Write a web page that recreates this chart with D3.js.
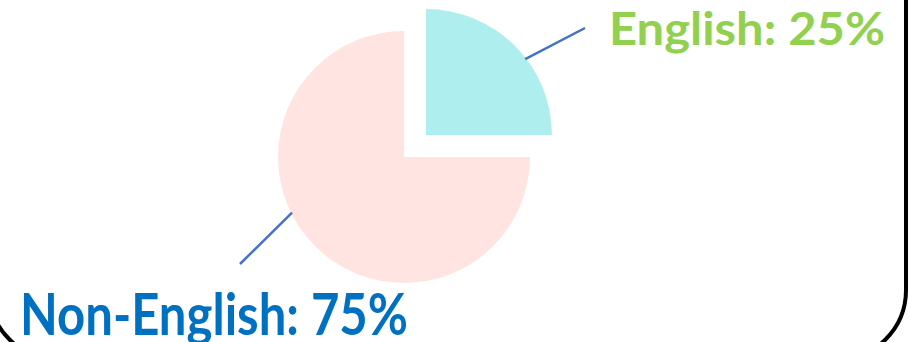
<!DOCTYPE html>
<html><head><meta charset="utf-8">
<script src="https://cdn.jsdelivr.net/npm/d3@7"></script>
<style>html,body{margin:0;padding:0;background:#fff;overflow:hidden}</style>
</head><body>
<svg id="chart" width="909" height="342"></svg>
<script>
const categories = ["English", "Non-English"];
const values = [25, 75];
const labels = ["English: 25%", "Non-English: 75%"];
const fills = ["#afeeee", "#ffe4e1"];
const labelColors = ["#92d050", "#0070c0"];

const svg = d3.select("#chart");

// frame
svg.append("rect").attr("x", -11).attr("y", -80).attr("width", 917).attr("height", 440)
  .attr("rx", 70).attr("ry", 70).attr("fill", "none").attr("stroke", "#000").attr("stroke-width", 4);

const cx = 404, cy = 157, r = 126, explode = 31;
const pie = d3.pie().sort(null).value(d => d).startAngle(0).endAngle(2 * Math.PI);
const arcs = pie(values);
const arc = d3.arc().innerRadius(0).outerRadius(r);

const g = svg.append("g").attr("transform", `translate(${cx},${cy})`);
arcs.forEach((a, i) => {
  const mid = (a.startAngle + a.endAngle) / 2;
  const off = i === 0 ? explode : 0;
  const ox = Math.sin(mid) * off, oy = -Math.cos(mid) * off;
  g.append("path").attr("d", arc(a)).attr("fill", fills[i])
    .attr("transform", `translate(${ox},${oy})`);
});

// leader lines
const leaderAngles = [52.6, 243.6].map(d => d * Math.PI / 180);
const leaderEnds = [[585, 28], [240, 264]];
arcs.forEach((a, i) => {
  const mid = (a.startAngle + a.endAngle) / 2;
  const off = i === 0 ? explode : 0;
  const ox = cx + Math.sin(mid) * off, oy = cy - Math.cos(mid) * off;
  const sx = ox + Math.sin(leaderAngles[i]) * (r - 1);
  const sy = oy - Math.cos(leaderAngles[i]) * (r - 1);
  svg.append("line").attr("x1", sx).attr("y1", sy)
    .attr("x2", leaderEnds[i][0]).attr("y2", leaderEnds[i][1])
    .attr("stroke", "#4472c4").attr("stroke-width", 2.5);
});

// labels
const labelPos = [[609, 45, 46, 276], [20, 335, 57, 388]];
labels.forEach((t, i) => {
  svg.append("text").attr("x", labelPos[i][0]).attr("y", labelPos[i][1])
    .attr("font-family", "Lato, 'Open Sans', sans-serif").attr("font-weight", "bold")
    .attr("font-size", labelPos[i][2]).attr("fill", labelColors[i])
    .attr("textLength", labelPos[i][3]).attr("lengthAdjust", "spacingAndGlyphs")
    .text(t);
});
</script>
</body></html>
